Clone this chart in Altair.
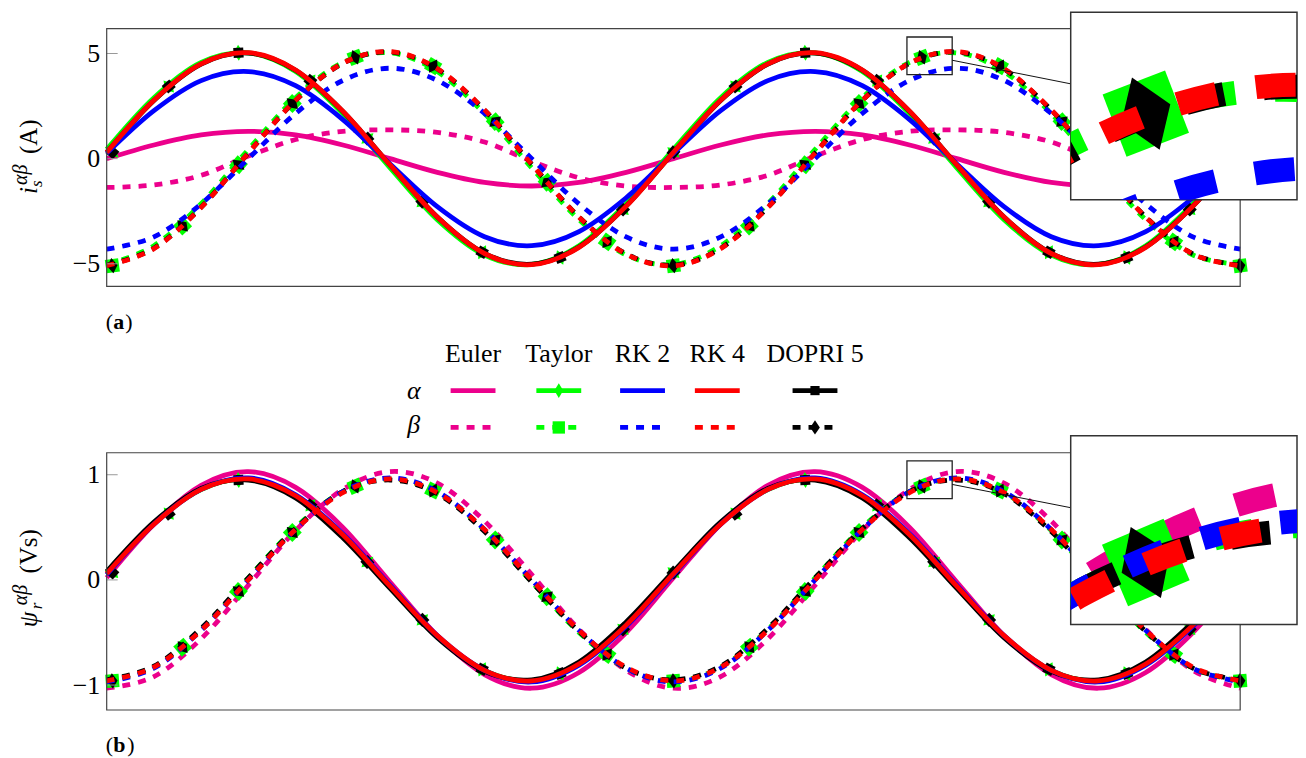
import altair as alt
import pandas as pd

# ---------------- data ----------------
# time axis (ms), two electrical periods, samples every 1/12 period
T = [0.0, 1.667, 3.333, 5.0, 6.667, 8.333, 10.0, 11.667, 13.333, 15.0, 16.667, 18.333,
     20.0, 21.667, 23.333, 25.0, 26.667, 28.333, 30.0, 31.667, 33.333, 35.0, 36.667, 38.333, 40.0]

# panel (a): stator current i_s (A)
A_EULER_ALPHA = [0.00, 0.65, 1.13, 1.30, 1.13, 0.65, 0.00, -0.65, -1.13, -1.30, -1.13, -0.65,
                 0.00, 0.65, 1.13, 1.30, 1.13, 0.65, 0.00, -0.65, -1.13, -1.30, -1.13, -0.65, 0.00]
A_EULER_BETA = [-1.37, -1.25, -0.79, 0.12, 0.91, 1.30, 1.37, 1.25, 0.79, -0.12, -0.91, -1.30,
                -1.37, -1.25, -0.79, 0.12, 0.91, 1.30, 1.37, 1.25, 0.79, -0.12, -0.91, -1.30, -1.37]
A_TAYLOR_ALPHA = [0.44, 2.90, 4.58, 5.03, 4.14, 2.14, -0.44, -2.90, -4.58, -5.03, -4.14, -2.14,
                  0.44, 2.90, 4.58, 5.03, 4.14, 2.14, -0.44, -2.90, -4.58, -5.03, -4.14, -2.14, 0.44]
A_TAYLOR_BETA = [-5.03, -4.14, -2.14, 0.44, 2.90, 4.58, 5.03, 4.14, 2.14, -0.44, -2.90, -4.58,
                 -5.03, -4.14, -2.14, 0.44, 2.90, 4.58, 5.03, 4.14, 2.14, -0.44, -2.90, -4.58, -5.03]
A_RK2_ALPHA = [0.25, 2.28, 3.71, 4.14, 3.47, 1.86, -0.25, -2.28, -3.71, -4.14, -3.47, -1.86,
               0.25, 2.28, 3.71, 4.14, 3.47, 1.86, -0.25, -2.28, -3.71, -4.14, -3.47, -1.86, 0.25]
A_RK2_BETA = [-4.30, -3.72, -2.15, 0.00, 2.15, 3.72, 4.30, 3.72, 2.15, 0.00, -2.15, -3.72,
              -4.30, -3.72, -2.15, 0.00, 2.15, 3.72, 4.30, 3.72, 2.15, 0.00, -2.15, -3.72, -4.30]
A_RK4_ALPHA = [0.30, 2.78, 4.51, 5.04, 4.22, 2.26, -0.30, -2.78, -4.51, -5.04, -4.22, -2.26,
               0.30, 2.78, 4.51, 5.04, 4.22, 2.26, -0.30, -2.78, -4.51, -5.04, -4.22, -2.26, 0.30]
A_RK4_BETA = [-5.09, -4.28, -2.32, 0.27, 2.78, 4.54, 5.09, 4.28, 2.32, -0.27, -2.78, -4.54,
              -5.09, -4.28, -2.32, 0.27, 2.78, 4.54, 5.09, 4.28, 2.32, -0.27, -2.78, -4.54, -5.09]
A_DOPRI_ALPHA = [0.30, 2.77, 4.50, 5.02, 4.20, 2.25, -0.30, -2.77, -4.50, -5.02, -4.20, -2.25,
                 0.30, 2.77, 4.50, 5.02, 4.20, 2.25, -0.30, -2.77, -4.50, -5.02, -4.20, -2.25, 0.30]
A_DOPRI_BETA = [-5.07, -4.26, -2.31, 0.27, 2.77, 4.53, 5.07, 4.26, 2.31, -0.27, -2.77, -4.53,
                -5.07, -4.26, -2.31, 0.27, 2.77, 4.53, 5.07, 4.26, 2.31, -0.27, -2.77, -4.53, -5.07]

# panel (b): rotor flux psi_r (Vs)
B_EULER_ALPHA = [0.02, 0.53, 0.90, 1.03, 0.88, 0.50, -0.02, -0.53, -0.90, -1.03, -0.88, -0.50,
                 0.02, 0.53, 0.90, 1.03, 0.88, 0.50, -0.02, -0.53, -0.90, -1.03, -0.88, -0.50, 0.02]
B_EULER_BETA = [-1.03, -0.92, -0.56, -0.05, 0.47, 0.86, 1.03, 0.92, 0.56, 0.05, -0.47, -0.86,
                -1.03, -0.92, -0.56, -0.05, 0.47, 0.86, 1.03, 0.92, 0.56, 0.05, -0.47, -0.86, -1.03]
B_TAYLOR_ALPHA = [0.07, 0.54, 0.86, 0.96, 0.80, 0.42, -0.07, -0.54, -0.86, -0.96, -0.80, -0.42,
                  0.07, 0.54, 0.86, 0.96, 0.80, 0.42, -0.07, -0.54, -0.86, -0.96, -0.80, -0.42, 0.07]
B_TAYLOR_BETA = [-0.96, -0.83, -0.47, 0.02, 0.50, 0.84, 0.96, 0.83, 0.47, -0.02, -0.50, -0.84,
                 -0.96, -0.83, -0.47, 0.02, 0.50, 0.84, 0.96, 0.83, 0.47, -0.02, -0.50, -0.84, -0.96]
B_RK2_ALPHA = [0.05, 0.53, 0.86, 0.97, 0.81, 0.44, -0.05, -0.53, -0.86, -0.97, -0.81, -0.44,
               0.05, 0.53, 0.86, 0.97, 0.81, 0.44, -0.05, -0.53, -0.86, -0.97, -0.81, -0.44, 0.05]
B_RK2_BETA = [-0.97, -0.84, -0.48, 0.00, 0.48, 0.84, 0.97, 0.84, 0.48, 0.00, -0.48, -0.84,
              -0.97, -0.84, -0.48, 0.00, 0.48, 0.84, 0.97, 0.84, 0.48, 0.00, -0.48, -0.84, -0.97]
B_RK4_ALPHA = [0.06, 0.53, 0.86, 0.96, 0.80, 0.43, -0.06, -0.53, -0.86, -0.96, -0.80, -0.43,
               0.06, 0.53, 0.86, 0.96, 0.80, 0.43, -0.06, -0.53, -0.86, -0.96, -0.80, -0.43, 0.06]
B_RK4_BETA = [-0.96, -0.83, -0.48, 0.00, 0.48, 0.83, 0.96, 0.83, 0.48, 0.00, -0.48, -0.83,
              -0.96, -0.83, -0.48, 0.00, 0.48, 0.83, 0.96, 0.83, 0.48, 0.00, -0.48, -0.83, -0.96]
B_DOPRI_ALPHA = [0.08, 0.55, 0.87, 0.95, 0.78, 0.40, -0.08, -0.55, -0.87, -0.95, -0.78, -0.40,
                 0.08, 0.55, 0.87, 0.95, 0.78, 0.40, -0.08, -0.55, -0.87, -0.95, -0.78, -0.40, 0.08]
B_DOPRI_BETA = [-0.95, -0.82, -0.46, 0.02, 0.49, 0.84, 0.95, 0.82, 0.46, -0.02, -0.49, -0.84,
                -0.95, -0.82, -0.46, 0.02, 0.49, 0.84, 0.95, 0.82, 0.46, -0.02, -0.49, -0.84, -0.95]

# marker positions (Taylor and DOPRI 5 share them)
TM_ALPHA = [0.2, 2.19, 4.65, 7.19, 9.20, 11.14, 13.25, 16.00, 18.22,
            20.0, 22.19, 24.65, 27.19, 29.20, 31.14, 33.25, 36.00, 38.22, 40.0]
TM_BETA = [0.2, 2.68, 4.65, 6.55, 8.77, 11.52, 13.71, 15.54, 17.66,
           20.0, 22.68, 24.65, 26.55, 28.77, 31.52, 33.71, 35.54, 37.66, 40.0]
A_MARK_ALPHA = [0.30, 3.43, 5.04, 3.71, 0.96, -2.05, -4.45, -4.70, -2.42,
                0.30, 3.43, 5.04, 3.71, 0.96, -2.05, -4.45, -4.70, -2.42, 0.30]
A_MARK_BETA = [-5.09, -3.20, -0.29, 2.62, 4.82, 4.40, 1.76, -1.12, -3.96,
               -5.09, -3.20, -0.29, 2.62, 4.82, 4.40, 1.76, -1.12, -3.96, -5.09]
B_MARK_ALPHA = [0.07, 0.63, 0.95, 0.71, 0.17, -0.38, -0.85, -0.89, -0.47,
                0.07, 0.63, 0.95, 0.71, 0.17, -0.38, -0.85, -0.89, -0.47, 0.07]
B_MARK_BETA = [-0.96, -0.64, -0.11, 0.45, 0.89, 0.85, 0.38, -0.16, -0.71,
               -0.96, -0.64, -0.11, 0.45, 0.89, 0.85, 0.38, -0.16, -0.71, -0.96]
# marker orientation (degrees, follows the local direction of the curve)
A_ANG_ALPHA = [310, 319, 357, 39, 49, 47, 29, 337, 314, 310, 319, 357, 39, 49, 47, 29, 337, 314, 310]
A_ANG_BETA = [352, 317, 310, 314, 339, 31, 48, 49, 37, 352, 317, 310, 314, 339, 31, 48, 49, 37, 352]
B_ANG_ALPHA = [312, 321, 357, 38, 48, 46, 27, 337, 315, 312, 321, 357, 38, 48, 46, 27, 337, 315, 312]
B_ANG_BETA = [356, 320, 312, 315, 337, 27, 46, 48, 37, 356, 320, 312, 315, 337, 27, 46, 48, 37, 356]

TICKS_A = [-5, 0, 5]
TICKS_B = [-1, 0, 1]
METHODS = ["Euler", "Taylor", "RK 2", "RK 4", "DOPRI 5"]

# ---------------- styling / layout ----------------
FONT = "Liberation Serif"
COL = {"Euler": "#ec008c", "Taylor": "#00ff00", "RK 2": "#0000ff",
       "RK 4": "#ff0000", "DOPRI 5": "#000000"}
DRAW_ORDER = ["Euler", "Taylor", "DOPRI 5", "RK 2", "RK 4"]
LW = 4.8
DASH = [8, 8]
DIAMOND_T = "M0,-1L0.6,0L0,1L-0.6,0Z"
DIAMOND_D = "M0,-1L0.68,0L0,1L-0.68,0Z"
MARK_STYLE = {("Taylor", "alpha"): (DIAMOND_T, 256), ("DOPRI 5", "alpha"): ("square", 100),
              ("Taylor", "beta"): ("square", 180), ("DOPRI 5", "beta"): (DIAMOND_D, 240)}
PLOT_W = 1137          # full plot frame width (px)
CELL_W = 967           # grid cell width: inset starts here
H = 275
X_VIEW_MAX = 40.0 * CELL_W / PLOT_W
ONE = pd.DataFrame({"k": [0]})

SER_A = {("Euler", "alpha"): A_EULER_ALPHA, ("Euler", "beta"): A_EULER_BETA,
         ("Taylor", "alpha"): A_TAYLOR_ALPHA, ("Taylor", "beta"): A_TAYLOR_BETA,
         ("RK 2", "alpha"): A_RK2_ALPHA, ("RK 2", "beta"): A_RK2_BETA,
         ("RK 4", "alpha"): A_RK4_ALPHA, ("RK 4", "beta"): A_RK4_BETA,
         ("DOPRI 5", "alpha"): A_DOPRI_ALPHA, ("DOPRI 5", "beta"): A_DOPRI_BETA}
SER_B = {("Euler", "alpha"): B_EULER_ALPHA, ("Euler", "beta"): B_EULER_BETA,
         ("Taylor", "alpha"): B_TAYLOR_ALPHA, ("Taylor", "beta"): B_TAYLOR_BETA,
         ("RK 2", "alpha"): B_RK2_ALPHA, ("RK 2", "beta"): B_RK2_BETA,
         ("RK 4", "alpha"): B_RK4_ALPHA, ("RK 4", "beta"): B_RK4_BETA,
         ("DOPRI 5", "alpha"): B_DOPRI_ALPHA, ("DOPRI 5", "beta"): B_DOPRI_BETA}
MK_A = {"alpha": (A_MARK_ALPHA, A_ANG_ALPHA), "beta": (A_MARK_BETA, A_ANG_BETA)}
MK_B = {"alpha": (B_MARK_ALPHA, B_ANG_ALPHA), "beta": (B_MARK_BETA, B_ANG_BETA)}


def curve_layers(series, marks, x, y, k=1.0, clip=False):
    out = []
    for m in DRAW_ORDER:
        for comp in ("alpha", "beta"):
            df = pd.DataFrame({"t": T, "v": series[(m, comp)]})
            kw = dict(color=COL[m], strokeWidth=LW * k, interpolate="cardinal",
                      clip=clip, strokeCap="butt")
            if comp == "beta":
                kw["strokeDash"] = [d * k for d in DASH]
            out.append(alt.Chart(df).mark_line(**kw).encode(x=x, y=y))
            if (m, comp) in MARK_STYLE:
                shape, size = MARK_STYLE[(m, comp)]
                tm = TM_ALPHA if comp == "alpha" else TM_BETA
                vals, angs = marks[comp]
                dfm = pd.DataFrame({"t": tm, "v": vals, "ang": angs})
                out.append(alt.Chart(dfm).mark_point(
                    shape=shape, size=size * k * k, filled=True, color=COL[m],
                    opacity=1, clip=clip).encode(
                    x=x, y=y, angle=alt.Angle("ang:Q", scale=None)))
    return out


def text_layer(txt, xp, yp, size, italic=False, bold=False, angle=0, align="left",
               baseline="alphabetic"):
    return alt.Chart(ONE).mark_text(
        text=txt, font=FONT, fontSize=size, fontStyle="italic" if italic else "normal",
        fontWeight="bold" if bold else "normal", angle=angle, align=align,
        baseline=baseline, color="black").encode(x=alt.value(xp), y=alt.value(yp))


def main_panel(series, marks, ydom, yframe, ticks, spy, conn, titles, extra):
    x = alt.X("t:Q", scale=alt.Scale(domain=[0, X_VIEW_MAX]), axis=None)
    y = alt.Y("v:Q", scale=alt.Scale(domain=ydom),
              axis=alt.Axis(values=ticks, ticks=False, domain=False, grid=False,
                            labelPadding=7, labelFontSize=26, labelFont=FONT,
                            labelColor="black", title=""))
    layers = curve_layers(series, marks, x, y)
    layers.append(alt.Chart(pd.DataFrame({"v": ticks})).mark_rule(
        color="#999999", strokeWidth=1).encode(x=alt.value(0), x2=alt.value(11), y=y))
    layers.append(alt.Chart(pd.DataFrame({"t": [spy[0]], "t2": [spy[1]],
                                          "v": [spy[3]], "v2": [spy[2]]})).mark_rect(
        fill="transparent", stroke="#222222", strokeWidth=1.3).encode(
        x=x, x2="t2", y=y, y2="v2"))
    layers.append(alt.Chart(pd.DataFrame({"t": [conn[0]], "t2": [conn[2]],
                                          "v": [conn[1]], "v2": [conn[3]]})).mark_rule(
        color="#111111", strokeWidth=1).encode(x=x, x2="t2", y=y, y2="v2"))
    layers.append(alt.Chart(pd.DataFrame({"t": [0], "t2": [40],
                                          "v": [yframe[1]], "v2": [yframe[0]]})).mark_rect(
        fill="transparent", stroke="#444444", strokeWidth=1.2).encode(
        x=x, x2="t2", y=y, y2="v2"))
    for (txt, xp, yp, size, it) in titles:
        layers.append(text_layer(txt, xp, yp, size, italic=it, angle=270))
    layers += extra
    return alt.layer(*layers).properties(width=CELL_W, height=H)


def inset(series, marks, xdom, ydom, h):
    x = alt.X("t:Q", scale=alt.Scale(domain=xdom), axis=None)
    y = alt.Y("v:Q", scale=alt.Scale(domain=ydom), axis=None)
    layers = curve_layers(series, marks, x, y, k=5.0, clip=True)
    return alt.layer(*layers).properties(
        width=227, height=h,
        view=alt.ViewBackground(fill="white", stroke="#333333", strokeWidth=1.5))


anchor = alt.Chart(ONE).mark_rect(color="white").encode(
    x=alt.value(-99), x2=alt.value(-98), y=alt.value(-2.7), y2=alt.value(-1.7))

panel_a = main_panel(
    SER_A, MK_A, [-6.07, 6.967], [-6.07, 6.18], TICKS_A,
    spy=[28.24, 29.837, 4.0, 5.785], conn=[29.837, 4.68, 34.05, 3.55],
    titles=[("i", -70, 182.3, 25, True), ("s", -65, 175.3, 17, True),
            ("\u03b1\u03b2", -80, 173.3, 20, True), ("(A)", -70, 142.3, 25, False)],
    extra=[anchor])

panel_b = main_panel(
    SER_B, MK_B, [-1.237, 1.370], [-1.237, 1.209], TICKS_B,
    spy=[28.24, 29.837, 0.772, 1.131], conn=[29.837, 0.908, 34.05, 0.685],
    titles=[("\u03c8", -70, 192, 25, True), ("r", -65, 174, 17, True),
            ("\u03b1\u03b2", -80, 170, 20, True), ("(Vs)", -70, 138, 25, False)],
    extra=[text_layer("(", -1, 310, 22, baseline="middle"),
           text_layer("b", 6.5, 310, 22, bold=True, baseline="middle"),
           text_layer(")", 20.5, 310, 22, baseline="middle")])

inset_a = inset(SER_A, MK_A, [28.24, 29.837], [4.0, 5.785], 188.3)
inset_b = inset(SER_B, MK_B, [28.24, 29.837], [0.772, 1.131], 189.3)

# legend table
LEG_X = {"Euler": (345, 390), "Taylor": (431, 476), "RK 2": (515, 560),
         "RK 4": (590, 635), "DOPRI 5": (688, 733)}
ROW_Y = {"alpha": 104.6, "beta": 141.6}
leg = [text_layer("(", -1, 36.3, 22, baseline="middle"),
       text_layer("a", 6.5, 36.3, 22, bold=True, baseline="middle"),
       text_layer(")", 18.5, 36.3, 22, baseline="middle"),
       text_layer("\u03b1", 308, ROW_Y["alpha"], 26, italic=True, align="center", baseline="middle"),
       text_layer("\u03b2", 308, ROW_Y["beta"] - 2, 26, italic=True, align="center", baseline="middle")]
for m in METHODS:
    x0, x1 = LEG_X[m]
    leg.append(text_layer(m, (x0 + x1) / 2, 76, 26, align="center"))
    for comp in ("alpha", "beta"):
        kw = dict(color=COL[m], strokeWidth=LW, strokeCap="butt")
        if comp == "beta":
            kw["strokeDash"] = DASH
        leg.append(alt.Chart(ONE).mark_rule(**kw).encode(
            x=alt.value(x0), x2=alt.value(x1), y=alt.value(ROW_Y[comp])))
        if (m, comp) in MARK_STYLE:
            shape, size = MARK_STYLE[(m, comp)]
            leg.append(alt.Chart(ONE).mark_point(
                shape=shape, size=size * 0.85, filled=True, color=COL[m], opacity=1).encode(
                x=alt.value((x0 + x1) / 2), y=alt.value(ROW_Y[comp])))
legend = alt.layer(*leg).properties(width=CELL_W, height=149.3)

blank = alt.Chart(ONE).mark_point(opacity=0).encode(
    x=alt.value(0), y=alt.value(0)).properties(width=10, height=10)

chart = alt.ConcatChart(
    concat=[panel_a, inset_a, legend, blank, panel_b, inset_b],
    columns=2, spacing=0, bounds="flush", padding=0,
).configure(font=FONT).configure_view(strokeWidth=0)

chart.save("out.html", embed_options={"renderer": "svg", "actions": False})
